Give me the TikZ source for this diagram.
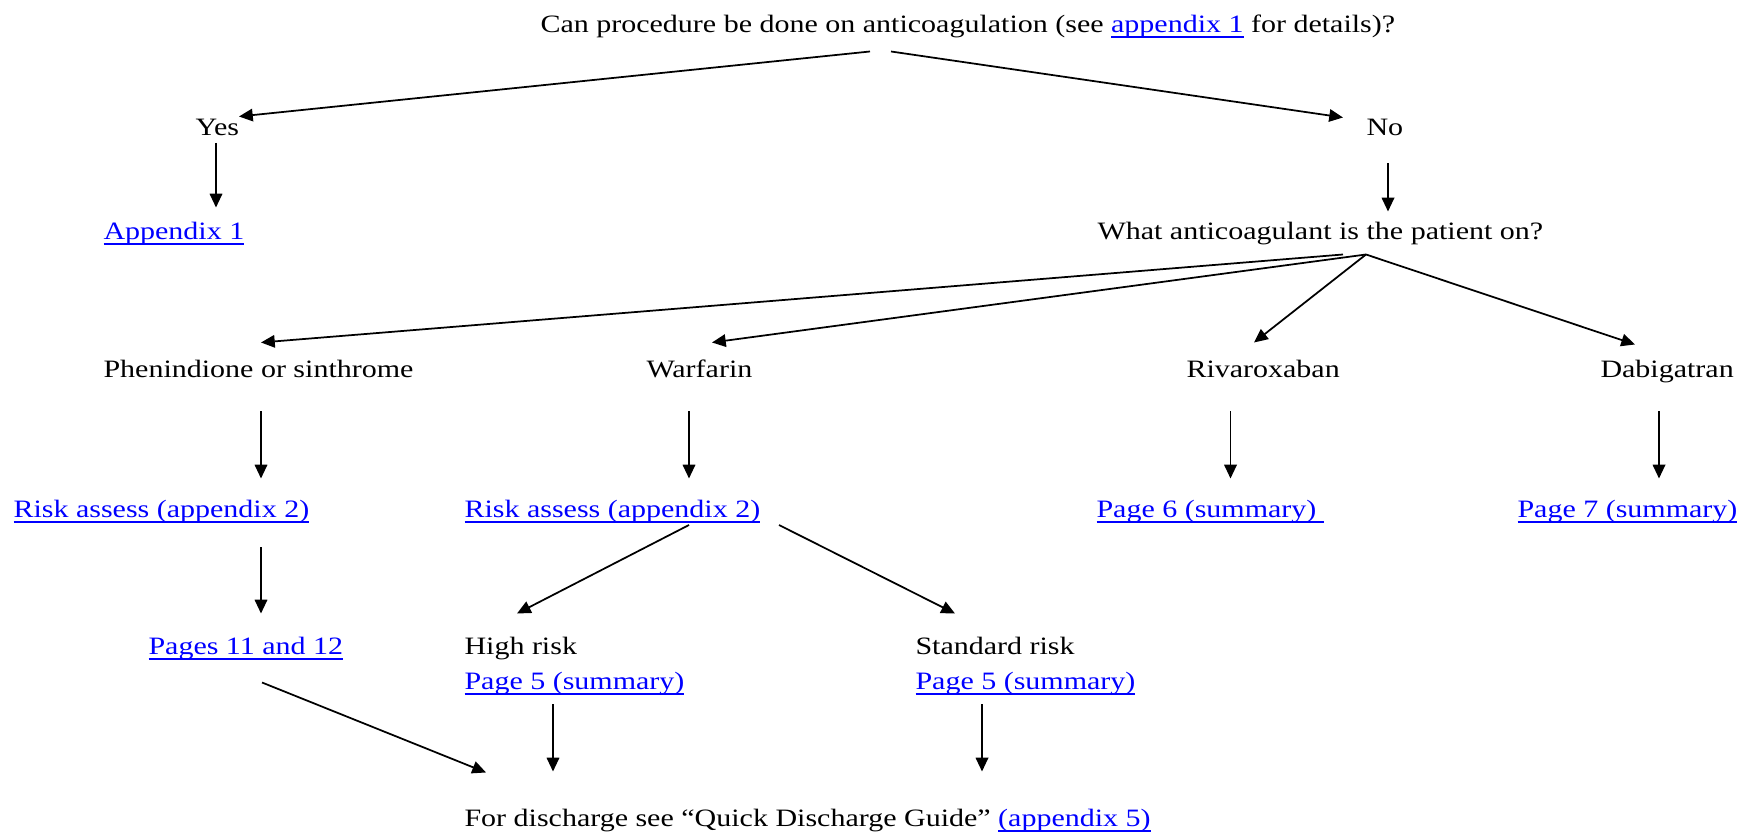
\documentclass[tikz,border=0pt]{standalone}
\usepackage{fontspec}
\setmainfont{Liberation Serif}[FakeStretch=1.2]
\usetikzlibrary{calc, arrows.meta, positioning}
\newcommand{\lnk}[1]{{\color{blue}\setbox0\hbox{#1}\rlap{\rule[-2.1pt]{\wd0}{0.8pt}}\box0}}

\begin{document}
\begin{tikzpicture}[x=0.4pt, y=-0.4pt,
	txt/.style={anchor=base west, inner sep=0pt, text height=8.4pt, text depth=2.6pt},
	arr/.style={-{Triangle[length=5.5pt, width=5pt]}, line width=0.7pt}]
	\useasboundingbox (0,0) rectangle (1754,837);
	% question and answers
	\node[txt] (ask) at (540,33) {Can procedure be done on anticoagulation (see \lnk{appendix 1} for details)?};
	\node[txt] (yes) at (195,136) {Yes};
	\node[txt] (no) at (1366,136) {No};
	\node[txt] (appA) at (103,240) {\lnk{Appendix 1}};
	\node[txt] (what) at (1097,240) {What anticoagulant is the patient on?};
	% drugs
	\node[txt] (phen) at (103,378) {Phenindione or sinthrome};
	\node[txt] (warf) at (646,378) {Warfarin};
	\node[txt] (riva) at (1186,378) {Rivaroxaban};
	\node[txt] (dabi) at (1600,378) {Dabigatran};
	\node[txt] (riskA) at (13,518) {\lnk{Risk assess (appendix 2)}};
	\node[txt] (riskB) at (464,518) {\lnk{Risk assess (appendix 2)}};
	\node[txt] (pSix) at (1096,518) {\lnk{Page 6 (summary)\ }};
	\node[txt] (pSeven) at (1517,518) {\lnk{Page 7 (summary)}};
	\node[txt] (pTwelve) at (148,655) {\lnk{Pages 11 and 12}};
	\node[txt] (high) at (464,655) {High risk};
	\node[txt] (pFiveA) at (464,690) {\lnk{Page 5 (summary)}};
	\node[txt] (std) at (915,655) {Standard risk};
	\node[txt] (pFiveB) at (915,690) {\lnk{Page 5 (summary)}};
	\node[txt] (out) at (464,827) {For discharge see “Quick Discharge Guide” \lnk{(appendix 5)}};

	\draw[arr] ($(ask.south west)+(330,11.5)$) -- ($(yes.north west)+(44,2)$);
	\draw[arr] ($(ask.south west)+(351,11.5)$) -- ($(no.north west)+(-23,3)$);
	\draw[arr] ($(yes.south west)+(21,0)$) -- ($(appA.north west)+(113,-11)$);
	\draw[arr] ($(no.south west)+(22,20.5)$) -- ($(what.north west)+(291,-7)$);

	\coordinate (forkA) at ($(what.south west)+(246,7.5)$);
	\coordinate (forkB) at ($(what.south west)+(269,7.5)$);
	\draw[arr] (forkA) -- ($(phen.north west)+(158,-14)$);
	\draw[arr] (forkB) -- ($(warf.north west)+(66,-14)$);
	\draw[arr] (forkB) -- ($(riva.north west)+(68,-14)$);
	\draw[arr] (forkB) -- ($(dabi.north west)+(35,-12)$);

	\draw[arr] ($(phen.south west)+(158,26.5)$) -- ($(riskA.north west)+(248,-18)$);
	\draw[arr] ($(warf.south west)+(43,26.5)$) -- ($(riskB.north west)+(225,-18)$);
	\draw[arr] ($(riva.south west)+(44.5,26.5)$) -- ($(pSix.north west)+(134.5,-18)$);
	\draw[arr] ($(dabi.south west)+(59,26.5)$) -- ($(pSeven.north west)+(142,-18)$);

	\draw[arr] ($(riskA.south west)+(248,22.5)$) -- ($(pTwelve.north west)+(113,-20)$);
	\draw[arr] ($(riskB.south west)+(225,0)$) -- ($(high.north west)+(53,-20)$);
	\draw[arr] ($(riskB.south west)+(315,0)$) -- ($(std.north west)+(40,-20)$);

	\draw[arr] ($(pTwelve.south west)+(114,20.5)$) -- ($(out.north west)+(22,-33)$);
	\draw[arr] ($(pFiveA.south west)+(89,7.5)$) -- ($(out.north west)+(89,-34)$);
	\draw[arr] ($(pFiveB.south west)+(67,7.5)$) -- ($(out.north west)+(518,-34)$);
\end{tikzpicture}
\end{document}
